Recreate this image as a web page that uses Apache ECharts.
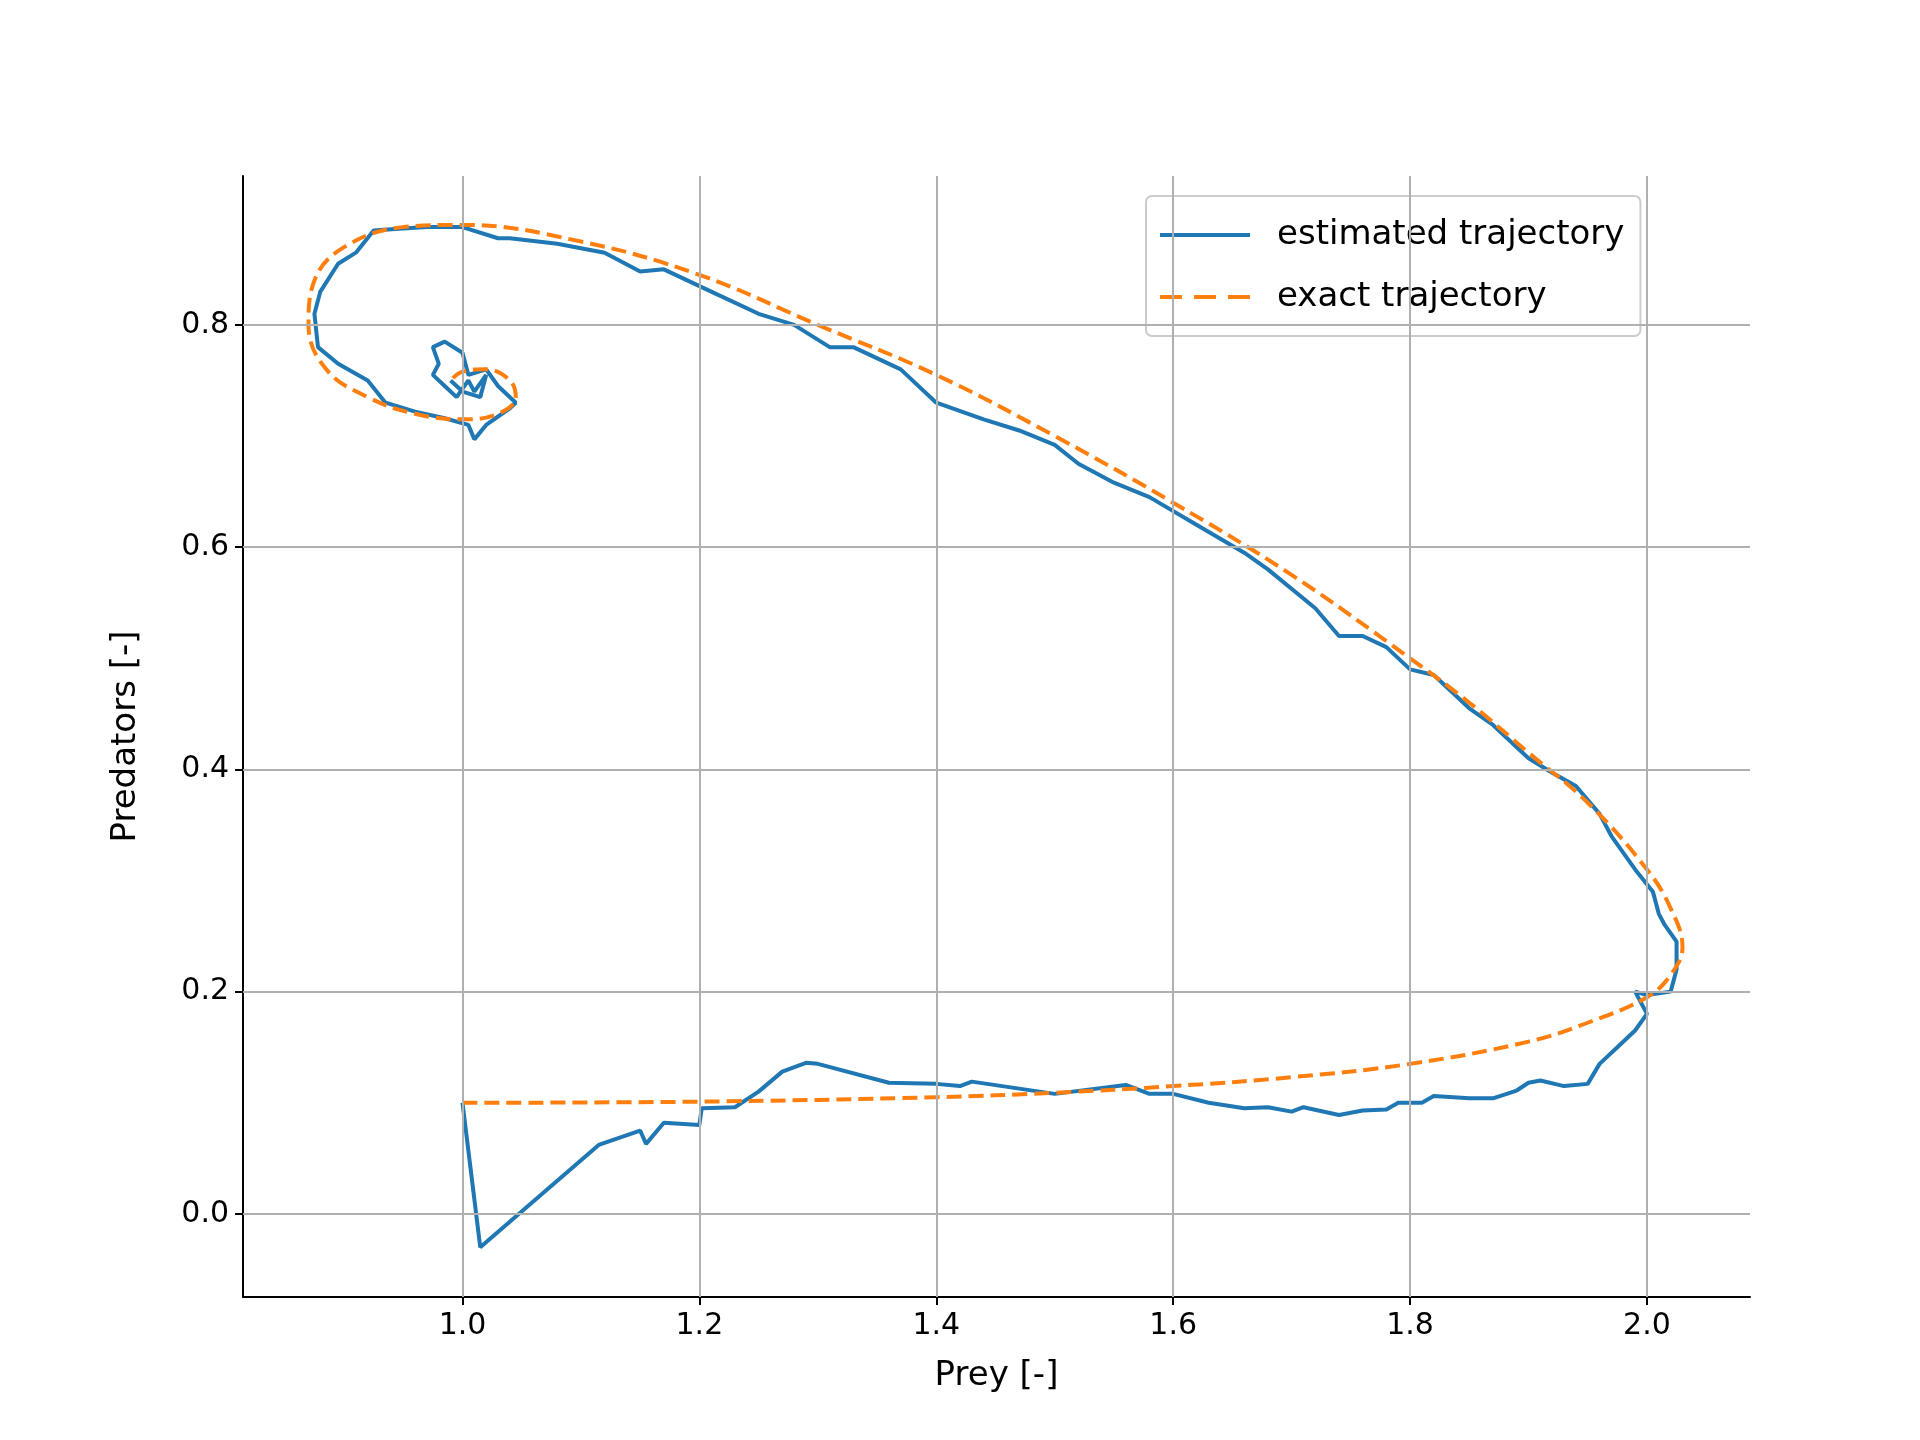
<!DOCTYPE html>
<html>
<head>
<meta charset="utf-8">
<script src="https://cdn.jsdelivr.net/npm/echarts@6/dist/echarts.min.js"></script>
<style>html,body{margin:0;padding:0;background:#fff}#chart{width:1920px;height:1440px}</style>
</head>
<body>
<div id="chart"></div>
<script>
// estimated trajectory [prey, predators]
var estimated = [
	[1.0,0.1],[1.015,-0.03],[1.115,0.062],[1.15,0.075],[1.155,0.063],[1.17,0.082],[1.2,0.08],[1.202,0.095],
	[1.23,0.096],[1.25,0.11],[1.27,0.128],[1.29,0.136],[1.3,0.135],[1.36,0.118],[1.4,0.117],[1.42,0.115],
	[1.43,0.119],[1.5,0.108],[1.56,0.116],[1.58,0.108],[1.6,0.108],[1.63,0.1],[1.66,0.095],[1.68,0.096],
	[1.7,0.092],[1.71,0.096],[1.74,0.089],[1.76,0.093],[1.78,0.094],[1.79,0.1],[1.81,0.1],[1.82,0.106],
	[1.85,0.104],[1.87,0.104],[1.89,0.111],[1.9,0.118],[1.91,0.12],[1.93,0.115],[1.95,0.117],[1.96,0.135],
	[1.975,0.15],[1.99,0.165],[2.0,0.18],[1.99,0.2],[2.0,0.197],[2.02,0.2],[2.025,0.22],[2.025,0.245],
	[2.015,0.26],[2.01,0.27],[2.005,0.29],[1.99,0.31],[1.97,0.34],[1.96,0.36],[1.94,0.385],[1.92,0.397],
	[1.9,0.41],[1.87,0.44],[1.85,0.455],[1.82,0.485],[1.8,0.49],[1.78,0.51],[1.76,0.52],[1.74,0.52],
	[1.72,0.545],[1.68,0.58],[1.66,0.595],[1.62,0.62],[1.58,0.645],[1.55,0.658],[1.52,0.675],[1.5,0.692],
	[1.47,0.705],[1.44,0.715],[1.4,0.73],[1.37,0.76],[1.33,0.78],[1.31,0.78],[1.28,0.8],[1.25,0.81],
	[1.21,0.83],[1.17,0.85],[1.15,0.848],[1.12,0.865],[1.08,0.873],[1.04,0.878],[1.03,0.878],[1.0,0.888],
	[0.97,0.888],[0.94,0.886],[0.925,0.885],[0.91,0.865],[0.895,0.855],[0.88,0.83],[0.875,0.81],[0.878,0.78],
	[0.895,0.765],[0.92,0.75],[0.935,0.73],[0.96,0.722],[0.985,0.716],[1.005,0.71],[1.01,0.697],[1.02,0.71],
	[1.04,0.725],[1.045,0.73],[1.03,0.745],[1.02,0.76],[1.005,0.755],[1.0,0.775],[0.985,0.785],[0.975,0.78],
	[0.98,0.765],[0.975,0.755],[0.985,0.745],[0.995,0.735],[1.005,0.75],[1.01,0.74],[1.02,0.755],[1.015,0.735],
	[1.0,0.74],[0.99,0.75]
];
// exact trajectory [prey, predators]
var exact = [
	[1.0,0.1],[1.2,0.101],[1.4,0.105],[1.5,0.109],[1.6,0.115],[1.7,0.123],[1.8,0.135],[1.9,0.155],
	[1.95,0.172],[2.0,0.195],[2.02,0.215],[2.03,0.24],[2.02,0.275],[2.0,0.31],[1.95,0.37],[1.9,0.415],
	[1.85,0.46],[1.8,0.5],[1.7,0.575],[1.6,0.64],[1.5,0.70],[1.4,0.755],[1.3,0.80],[1.2,0.845],
	[1.1,0.875],[1.0,0.89],[0.95,0.888],[0.9,0.87],[0.875,0.84],[0.87,0.80],[0.885,0.76],[0.92,0.735],
	[0.96,0.72],[1.0,0.715],[1.03,0.72],[1.045,0.735],[1.04,0.75],[1.02,0.76],[1.0,0.758],[0.99,0.75]
];
var xTicks = [1.0, 1.2, 1.4, 1.6, 1.8, 2.0];
var yTicks = [0.0, 0.2, 0.4, 0.6, 0.8];

var chart = echarts.init(document.getElementById('chart'));
var font = 'DejaVu Sans';
var gridLine = { color: '#b0b0b0', width: 2, type: 'solid' };
var gridMarks = xTicks.map(function (v) { return { xAxis: v }; })
	.concat(yTicks.map(function (v) { return { yAxis: v }; }));

function axis(name, min, max, ticks, gap) {
	return {
		type: 'value', min: min, max: max,
		name: name, nameLocation: 'middle', nameGap: gap,
		nameTextStyle: { fontSize: 34, color: '#000', fontFamily: font },
		axisLine: { show: true, onZero: false, lineStyle: { color: '#000', width: 2 } },
		axisTick: { show: true, length: 8, customValues: ticks, lineStyle: { color: '#000', width: 2 } },
		axisLabel: { fontSize: 30, color: '#000', margin: 14, fontFamily: font, customValues: ticks,
			formatter: function (v) { return v.toFixed(1); } },
		splitLine: { show: false }
	};
}

var option = {
	backgroundColor: '#fff',
	animation: false,
	textStyle: { fontFamily: font },
	grid: { left: 243, right: 170, top: 176, bottom: 143 },
	legend: {
		left: 1146, top: 196,
		orient: 'vertical',
		itemWidth: 90, itemHeight: 4, itemGap: 28,
		padding: [22, 16, 22, 14],
		borderColor: '#ccc', borderWidth: 2, borderRadius: 6,
		backgroundColor: 'rgba(255,255,255,0.8)',
		textStyle: { fontSize: 34, color: '#000', fontFamily: font, padding: [0, 0, 0, 22] },
		data: [
			{ name: 'estimated trajectory', icon: 'rect' },
			{ name: 'exact trajectory', icon: 'path://M0,0H22V4H0Z M34,0H56V4H34Z M68,0H90V4H68Z' }
		]
	},
	xAxis: axis('Prey [-]', 0.8147, 2.087, xTicks, 62),
	yAxis: axis('Predators [-]', -0.0748, 0.934, yTicks, 100),
	series: [
		{
			name: 'grid', type: 'line', data: [], silent: true,
			markLine: { symbol: 'none', silent: true, label: { show: false }, lineStyle: gridLine, data: gridMarks }
		},
		{
			name: 'estimated trajectory', type: 'line', data: estimated,
			showSymbol: false, symbol: 'none',
			lineStyle: { color: '#1f77b4', width: 4 }, itemStyle: { color: '#1f77b4' }
		},
		{
			name: 'exact trajectory', type: 'line', data: exact,
			showSymbol: false, symbol: 'none', smooth: 0.4,
			lineStyle: { color: '#ff7f0e', width: 4, type: [15, 7] }, itemStyle: { color: '#ff7f0e' }
		}
	]
};
chart.setOption(option);
</script>
</body>
</html>
